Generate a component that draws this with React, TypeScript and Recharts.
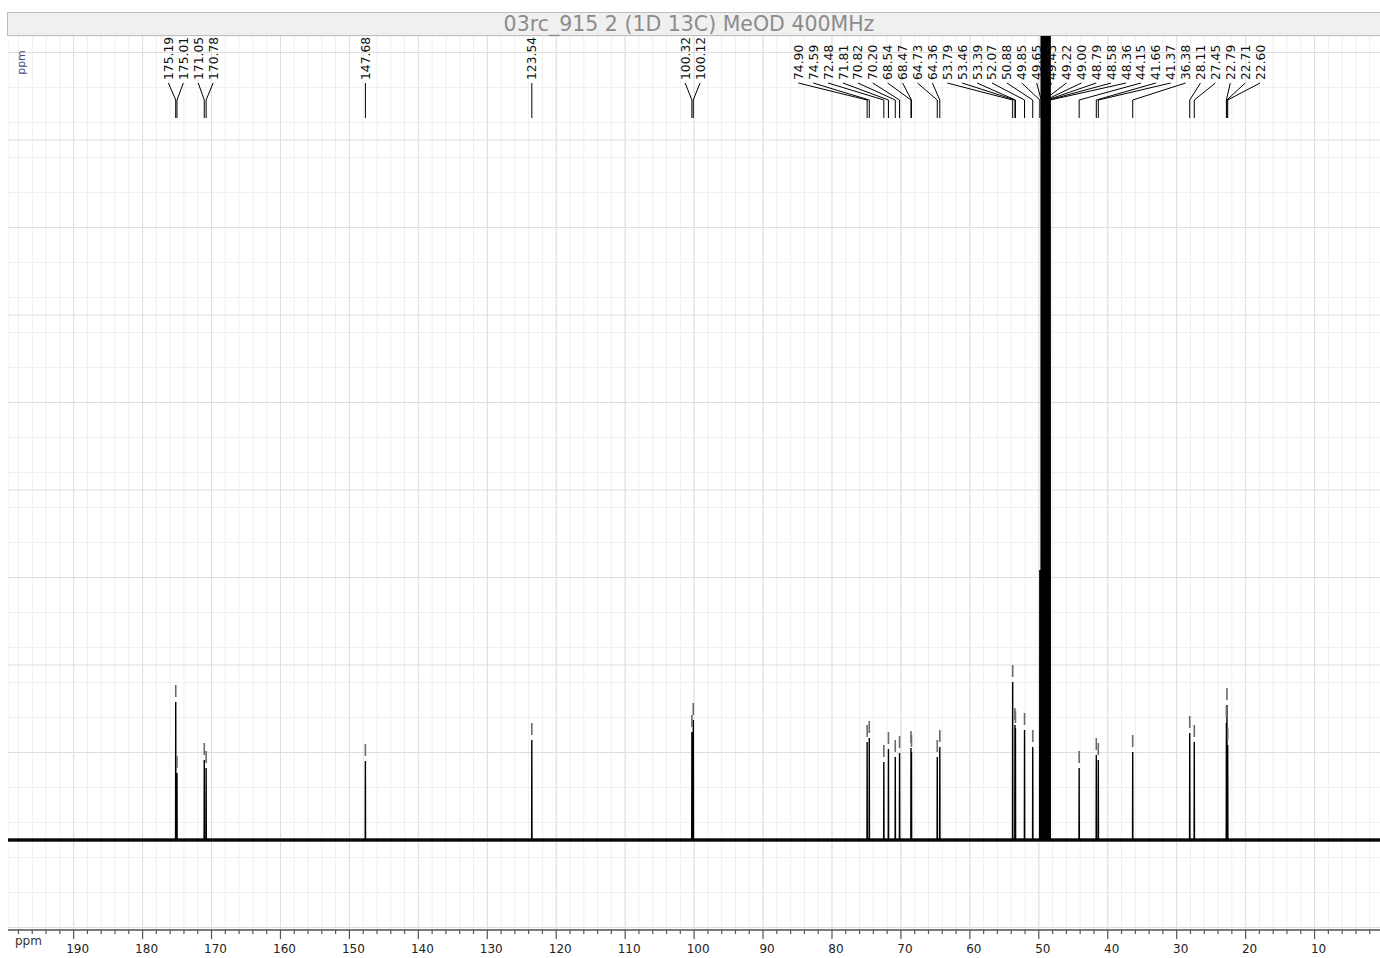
import { ComposedChart, Line, Scatter, XAxis, YAxis, CartesianGrid, ReferenceLine } from 'recharts'

// picked peaks (ppm) and their heights, in px above the baseline
const PEAK_PPM = [
  175.19, 175.01, 171.05, 170.78, 147.68, 123.54, 100.32, 100.12,
  74.9, 74.59, 72.48, 71.81, 70.82, 70.2, 68.54, 68.47, 64.73, 64.36,
  53.79, 53.46, 53.39, 52.07, 50.88,
  49.85, 49.65, 49.43, 49.22, 49.0, 48.79, 48.58, 48.36,
  44.15, 41.66, 41.37, 36.38, 28.11, 27.45, 22.79, 22.71, 22.6,
]
const PEAK_HEIGHT = [
  138, 67, 80, 72, 79, 100, 108, 120,
  98, 102, 78, 91, 83, 87, 92, 88, 83, 93,
  158, 115, 112, 110, 93,
  270, 1200, 3000, 6000, 7000, 6000, 3000, 1200,
  72, 85, 80, 88, 107, 98, 117, 135, 95,
]

const PPM_LEFT = 199.52
const PPM_RIGHT = -0.65
const Y_MIN = -90
const Y_MAX = 804
const PX_PER_PPM = 6.896
const LABEL_GAP = 14.9 / PX_PER_PPM

const minorX: number[] = []
for (let v = 0; v <= 198; v += 2) minorX.push(v)
const majorX = minorX.filter((v) => v % 10 === 0)
const minorY: number[] = []
for (let v = -87.5; v < Y_MAX; v += 17.5) minorY.push(v)
const majorY = minorY.filter((v) => Math.abs(v / 87.5 - Math.round(v / 87.5)) < 1e-6)

// spread labels so they do not overlap, like the nmr software does
function spreadLabels(ppms: number[], gap: number) {
  const groups: { first: number; count: number; sum: number }[] = []
  ppms.forEach((p, i) => {
    groups.push({ first: i, count: 1, sum: p })
    while (groups.length > 1) {
      const cur = groups[groups.length - 1]
      const prev = groups[groups.length - 2]
      const prevLast = prev.sum / prev.count - ((prev.count - 1) / 2) * gap
      const curFirst = cur.sum / cur.count + ((cur.count - 1) / 2) * gap
      if (prevLast - curFirst < gap) {
        prev.count += cur.count
        prev.sum += cur.sum
        groups.pop()
      } else break
    }
  })
  const out: number[] = []
  groups.forEach((g) => {
    const c = g.sum / g.count
    for (let k = 0; k < g.count; k++) out.push(c + ((g.count - 1) / 2) * gap - k * gap)
  })
  return out
}

const labelPos = spreadLabels(PEAK_PPM, LABEL_GAP)

const spectrum: { ppm: number; i: number }[] = [{ ppm: PPM_LEFT, i: 0 }]
PEAK_PPM.forEach((p, k) => {
  spectrum.push({ ppm: p + 0.025, i: 0 }, { ppm: p, i: PEAK_HEIGHT[k] }, { ppm: p - 0.025, i: 0 })
})
spectrum.push({ ppm: PPM_RIGHT, i: 0 })

const baseline = [
  { ppm: PPM_LEFT, i: 0 },
  { ppm: PPM_RIGHT, i: 0 },
]

const markers = PEAK_PPM.map((p, k) => ({ ppm: p, i: PEAK_HEIGHT[k] })).filter((m) => m.i < 200)

const labels = PEAK_PPM.map((p, k) => ({ ppm: labelPos[k], i: 760, label: p.toFixed(2) }))

const connectors: { ppm: number; i: number | null }[] = []
PEAK_PPM.forEach((p, k) => {
  connectors.push({ ppm: labelPos[k], i: 757 }, { ppm: p, i: 740 }, { ppm: p, i: 722 }, { ppm: p, i: null })
})

const FONT = '"DejaVu Sans", Verdana, sans-serif'

const AxisTick = (props: any) => {
  const { x, y, payload } = props
  const v = payload.value
  const major = v % 10 === 0
  return (
    <g>
      <line x1={x} x2={x} y1={y} y2={y + (major ? 9 : 4)} stroke="#555" strokeWidth={1.2} />
      {major && (
        <text x={x + 4} y={y + 22.5} textAnchor="middle" fontSize={12} fill="#222" fontFamily={FONT}>
          {v}
        </text>
      )}
    </g>
  )
}

const MarkerShape = (props: any) => {
  const { cx, cy } = props
  return <line x1={cx} x2={cx} y1={cy - 5} y2={cy - 17} stroke="#6a6a6a" strokeWidth={1.6} />
}

const LabelShape = (props: any) => {
  const { cx, cy, payload } = props
  return (
    <text transform={`translate(${cx + 4.5},${cy}) rotate(-90)`} fontSize={12.3} fontFamily={FONT} fill="#111">
      {payload.label}
    </text>
  )
}

export default function App() {
  return (
    <div style={{ position: 'fixed', left: 0, top: 0, width: 1380, height: 958, overflow: 'hidden', background: '#fff', fontFamily: FONT }}>
      <div
        style={{
          position: 'absolute',
          left: 7,
          top: 12,
          width: 1380,
          height: 24,
          background: '#f0f0f0',
          border: '1px solid #bdbdbd',
          color: '#8c8c8c',
          fontSize: 20.5,
          lineHeight: '23px',
          textAlign: 'center',
          paddingRight: 16,
          boxSizing: 'border-box',
        }}
      >
        03rc_915 2 (1D 13C) MeOD 400MHz
      </div>
      <div style={{ position: 'absolute', left: 8, top: 36 }}>
        <ComposedChart width={1380} height={922} margin={{ top: 0, right: 0, bottom: 0, left: 0 }}>
          <CartesianGrid stroke="#efefef" strokeWidth={1} />
          <XAxis
            type="number"
            dataKey="ppm"
            domain={[PPM_RIGHT, PPM_LEFT]}
            reversed
            allowDataOverflow
            ticks={minorX}
            interval={0}
            height={28}
            tickSize={0}
            tickMargin={0}
            tickLine={false}
            axisLine={{ stroke: '#555', strokeWidth: 1.5 }}
            tick={<AxisTick />}
          />
          <YAxis type="number" dataKey="i" domain={[Y_MIN, Y_MAX]} allowDataOverflow ticks={minorY} hide />
          {majorX.map((v) => (
            <ReferenceLine key={'mx' + v} x={v} stroke="#dedede" strokeWidth={1} />
          ))}
          {majorY.map((v) => (
            <ReferenceLine key={'my' + v} y={v} stroke="#dedede" strokeWidth={1} />
          ))}
          <Line data={baseline} dataKey="i" stroke="#1a1a1a" strokeWidth={3.5} dot={false} isAnimationActive={false} legendType="none" />
          <Line data={spectrum} dataKey="i" stroke="#000" strokeWidth={1.4} dot={false} isAnimationActive={false} legendType="none" />
          <Line
            data={connectors}
            dataKey="i"
            stroke="#000"
            strokeWidth={1}
            dot={false}
            connectNulls={false}
            isAnimationActive={false}
            legendType="none"
          />
          <Scatter data={markers} dataKey="i" shape={<MarkerShape />} isAnimationActive={false} legendType="none" />
          <Scatter data={labels} dataKey="i" shape={<LabelShape />} isAnimationActive={false} legendType="none" />
        </ComposedChart>
      </div>
      <div style={{ position: 'absolute', left: 15, top: 934, fontSize: 12, color: '#333' }}>ppm</div>
      <div
        style={{
          position: 'absolute',
          left: 9,
          top: 56,
          fontSize: 11,
          color: '#4a4a86',
          transform: 'rotate(-90deg)',
          transformOrigin: 'center',
        }}
      >
        ppm
      </div>
    </div>
  )
}
